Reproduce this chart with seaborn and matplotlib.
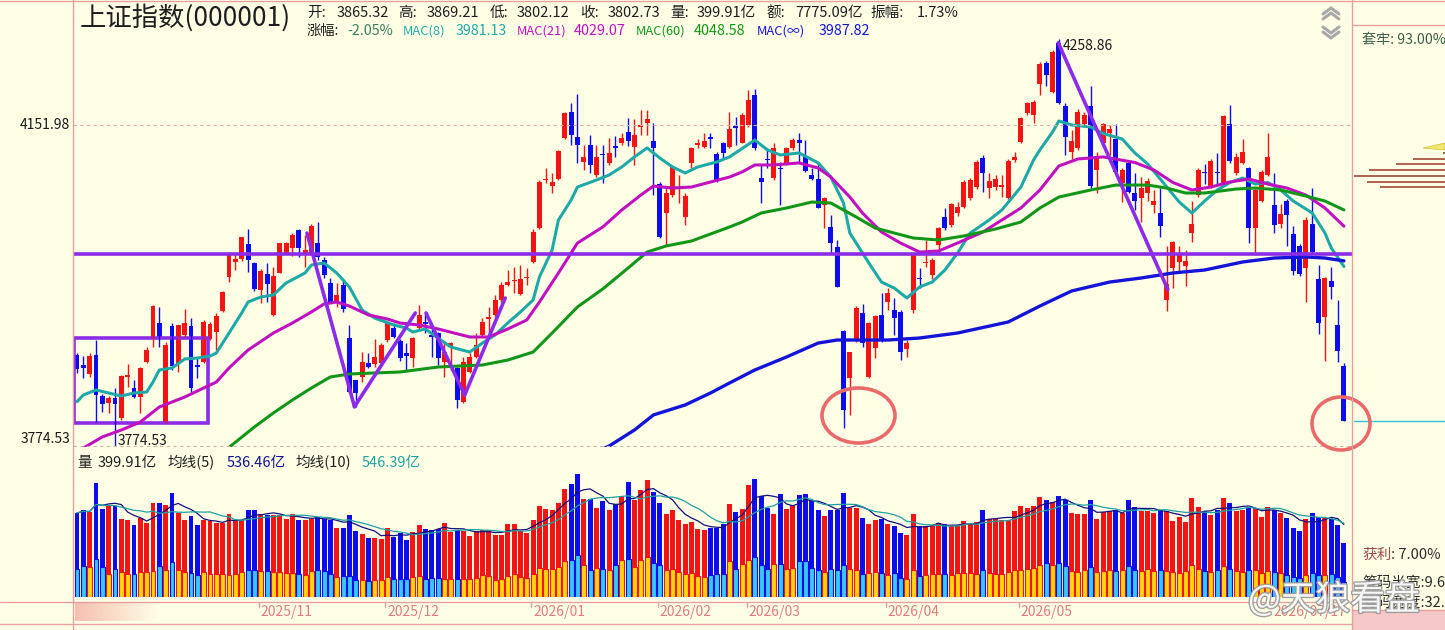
import numpy as np
import pandas as pd
import matplotlib
matplotlib.use("Agg")
import matplotlib.pyplot as plt
import matplotlib.transforms as mtrans
import matplotlib.patheffects as pe
from matplotlib.patches import Rectangle, Ellipse, Polygon
from matplotlib.lines import Line2D
import seaborn as sns

# ---------------- data ----------------
opens = [3877.8, 3866.4, 3856.1, 3877.8, 3831.0, 3823.0, 3828.7, 3806.1, 3852.7, 3840.1,
         3829.8, 3869.9, 3898.7, 3915.0, 3801.5, 3911.7, 3868.7, 3901.0, 3911.7, 3866.4,
         3869.9, 3896.4, 3904.5, 3928.9, 3968.8, 3986.5, 3990.1, 4007.8, 3985.3, 3953.5,
         3972.3, 3924.3, 3973.5, 3997.2, 4003.1, 4024.5, 3996.0, 3997.2, 4009.0, 3988.8,
         3961.7, 3939.4, 3959.3, 3897.5, 3849.2, 3852.7, 3868.7, 3867.5, 3868.7, 3895.2,
         3909.1, 3894.0, 3880.2, 3874.4, 3909.1, 3916.1, 3901.0, 3903.3, 3869.9, 3887.1,
         3863.0, 3824.1, 3858.4, 3875.6, 3901.0, 3919.6, 3924.3, 3941.7, 3959.3, 3964.0,
         3948.8, 3967.6, 3986.5, 4027.0, 4084.7, 4077.4, 4085.9, 4136.0, 4168.1, 4137.3,
         4106.7, 4127.4, 4090.8, 4116.4, 4105.5, 4126.2, 4129.8, 4143.3, 4125.0, 4149.6,
         4154.4, 4132.3, 4079.8, 4044.9, 4066.5, 4073.8, 4040.1, 4105.5, 4127.4, 4125.0,
         4137.3, 4116.4, 4129.8, 4125.0, 4150.8, 4129.8, 4152.0, 4189.1, 4087.1, 4110.3,
         4087.1, 4099.3, 4105.5, 4123.8, 4133.5, 4114.0, 4090.8, 4085.9, 4054.5, 4028.1,
         4004.3, 3905.6, 3851.5, 3895.2, 3926.6, 3852.7, 3886.0, 3924.3, 3939.4, 3930.1,
         3927.8, 3884.8, 3930.1, 3967.6, 3985.3, 3971.1, 4006.6, 4040.1, 4030.5, 4044.9,
         4052.1, 4062.9, 4076.2, 4111.5, 4075.0, 4076.2, 4076.2, 4062.9, 4109.1, 4131.1,
         4166.9, 4164.4, 4202.9, 4229.2, 4192.9, 4254.3, 4175.5, 4118.9, 4123.8, 4153.2,
         4175.5, 4096.9, 4129.8, 4142.1, 4134.8, 4081.1, 4105.5, 4068.9, 4062.9, 4069.0,
         4054.5, 4044.9, 3941.7, 3979.4, 3986.5, 3981.8, 4020.9, 4066.5, 4094.5, 4077.4,
         4094.5, 4081.1, 4153.2, 4093.2, 4105.5, 4099.3, 4026.9, 4059.3, 4090.8, 4054.5,
         4031.7, 4059.3, 4019.7, 4005.5, 3979.4, 4031.7, 3966.4, 3921.9, 3964.0, 3912.6,
         3865.32]
highs = [3880.2, 3876.7, 3880.2, 3895.2, 3833.3, 3831.0, 3840.1, 3855.0, 3867.5, 3849.2,
         3864.1, 3887.1, 3935.9, 3933.6, 3892.9, 3915.0, 3912.6, 3931.2, 3920.7, 3875.6,
         3918.4, 3916.1, 3926.6, 3952.3, 3998.3, 3997.2, 4016.2, 4025.7, 3986.5, 3978.2,
         3985.3, 3980.6, 4009.0, 4010.2, 4021.0, 4025.7, 4018.6, 4031.7, 4034.1, 3992.4,
         3967.6, 3961.7, 3966.4, 3912.6, 3849.2, 3881.3, 3880.2, 3896.4, 3891.7, 3916.1,
         3915.0, 3896.4, 3891.7, 3898.7, 3935.9, 3926.6, 3909.1, 3904.5, 3891.7, 3892.9,
         3864.1, 3875.6, 3880.2, 3903.3, 3920.7, 3933.6, 3947.6, 3962.8, 3977.0, 3980.6,
         3982.9, 3979.4, 4025.7, 4084.7, 4099.3, 4093.2, 4121.3, 4168.1, 4179.2, 4190.4,
         4127.4, 4139.8, 4127.4, 4127.4, 4136.0, 4138.5, 4142.1, 4160.6, 4159.4, 4170.5,
         4170.5, 4154.4, 4082.3, 4076.2, 4101.8, 4090.8, 4068.9, 4125.0, 4134.8, 4142.1,
         4142.1, 4118.9, 4131.1, 4168.1, 4161.8, 4166.9, 4195.4, 4196.6, 4103.0, 4123.8,
         4129.8, 4106.7, 4125.0, 4136.0, 4142.1, 4133.5, 4099.3, 4105.5, 4064.1, 4042.5,
         4012.6, 3906.8, 3881.3, 3934.7, 3937.0, 3916.1, 3924.3, 3950.0, 3955.8, 3944.1,
         3930.1, 3895.2, 3997.2, 3979.4, 4012.6, 3991.2, 4028.1, 4050.9, 4056.9, 4058.1,
         4084.7, 4087.1, 4109.1, 4115.2, 4093.2, 4090.8, 4090.8, 4110.3, 4118.9, 4161.8,
         4180.4, 4182.9, 4230.4, 4231.7, 4245.5, 4258.86, 4179.2, 4145.8, 4171.7, 4168.1,
         4200.4, 4118.9, 4154.4, 4152.0, 4153.2, 4099.3, 4107.9, 4093.2, 4088.3, 4087.1,
         4072.6, 4075.0, 4005.5, 4011.4, 4005.5, 4000.7, 4059.3, 4099.3, 4104.3, 4110.3,
         4117.6, 4164.4, 4176.7, 4117.6, 4134.8, 4100.6, 4075.0, 4096.9, 4142.1, 4093.2,
         4055.7, 4061.7, 4029.3, 4007.8, 4040.1, 4075.0, 3982.9, 3968.8, 3980.6, 3941.7,
         3869.21]
lows = [3857.3, 3851.7, 3852.8, 3801.5, 3812.8, 3811.7, 3774.53, 3803.8, 3841.2, 3828.7,
        3811.7, 3868.7, 3887.1, 3887.1, 3800.4, 3860.7, 3858.4, 3898.7, 3835.5, 3851.7,
        3868.7, 3895.2, 3883.6, 3927.8, 3962.8, 3977.0, 3987.7, 3974.6, 3952.3, 3938.2,
        3939.4, 3923.1, 3973.5, 3996.0, 3993.6, 3992.4, 3980.6, 3994.8, 3988.8, 3967.6,
        3938.2, 3933.6, 3927.8, 3834.4, 3818.5, 3846.9, 3863.0, 3864.1, 3865.3, 3892.9,
        3897.5, 3870.9, 3860.7, 3864.1, 3906.8, 3903.3, 3875.6, 3866.4, 3852.7, 3860.7,
        3817.4, 3823.0, 3857.3, 3874.4, 3898.7, 3903.3, 3921.9, 3939.4, 3958.1, 3949.9,
        3947.6, 3959.3, 3985.3, 4025.7, 4081.1, 4068.9, 4084.7, 4134.8, 4127.4, 4105.5,
        4096.9, 4093.2, 4088.3, 4081.1, 4103.0, 4112.8, 4127.4, 4126.2, 4103.0, 4139.8,
        4139.8, 4066.5, 4015.0, 4006.7, 4064.1, 4056.9, 4030.5, 4099.3, 4123.8, 4123.8,
        4123.8, 4082.3, 4111.5, 4123.8, 4127.4, 4129.8, 4149.6, 4121.3, 4056.9, 4099.3,
        4084.7, 4054.5, 4103.0, 4121.3, 4105.5, 4094.5, 4084.7, 4050.9, 4026.9, 3997.2,
        3957.0, 3794.8, 3809.4, 3892.9, 3887.1, 3851.5, 3874.4, 3892.9, 3930.1, 3901.0,
        3872.1, 3875.6, 3926.6, 3955.8, 3980.6, 3966.4, 3995.9, 4024.5, 4028.1, 4041.3,
        4050.9, 4060.5, 4073.8, 4070.2, 4062.9, 4072.6, 4064.1, 4061.7, 4106.7, 4129.8,
        4164.4, 4154.4, 4189.1, 4200.4, 4191.7, 4178.0, 4115.2, 4110.3, 4121.3, 4150.8,
        4075.0, 4068.9, 4126.2, 4115.2, 4094.5, 4058.1, 4069.0, 4048.5, 4034.1, 4059.3,
        4044.9, 4016.2, 3929.0, 3955.8, 3973.5, 3958.1, 4010.2, 4064.1, 4079.8, 4075.0,
        4079.8, 4078.6, 4105.5, 4090.8, 4104.3, 4009.0, 3994.8, 4058.1, 4089.6, 4020.9,
        4026.9, 4005.5, 3971.1, 3969.9, 3939.4, 3997.2, 3902.2, 3871.0, 3942.9, 3869.8,
        3802.12]
closes = [3861.8, 3863.0, 3876.7, 3832.1, 3821.9, 3828.7, 3821.9, 3853.8, 3855.0, 3829.8,
          3863.0, 3883.6, 3934.7, 3898.7, 3889.4, 3865.3, 3912.6, 3915.0, 3840.1, 3864.1,
          3916.1, 3913.8, 3923.1, 3951.1, 3994.8, 3990.1, 4016.2, 3988.8, 3954.7, 3975.9,
          3960.5, 3970.0, 4009.0, 4009.0, 4018.6, 4003.1, 4000.7, 4029.3, 3992.4, 3971.1,
          3939.4, 3947.6, 3931.2, 3835.5, 3834.4, 3869.9, 3864.1, 3875.6, 3889.4, 3915.0,
          3898.7, 3874.4, 3876.7, 3897.5, 3924.3, 3913.8, 3898.7, 3874.4, 3881.3, 3891.7,
          3826.4, 3869.9, 3875.6, 3889.4, 3916.1, 3921.9, 3941.7, 3959.3, 3962.8, 3965.2,
          3966.4, 3968.8, 4022.1, 4082.3, 4085.9, 4082.3, 4120.1, 4166.9, 4139.8, 4127.4,
          4112.8, 4103.0, 4112.8, 4115.2, 4117.6, 4123.8, 4136.0, 4132.3, 4139.8, 4152.0,
          4159.4, 4123.8, 4016.2, 4069.0, 4100.6, 4076.2, 4065.3, 4123.8, 4129.8, 4132.3,
          4134.8, 4084.7, 4117.6, 4147.0, 4148.3, 4164.4, 4182.9, 4123.8, 4082.3, 4109.1,
          4123.8, 4098.1, 4123.8, 4133.5, 4129.8, 4095.7, 4085.9, 4050.9, 4062.9, 4009.0,
          3957.0, 3815.1, 3881.3, 3932.4, 3891.7, 3915.0, 3923.1, 3895.2, 3949.9, 3920.7,
          3881.3, 3891.7, 3994.8, 3966.4, 3986.5, 3988.8, 4026.9, 4026.9, 4055.7, 4052.1,
          4082.3, 4084.7, 4106.7, 4093.2, 4083.5, 4085.9, 4078.6, 4107.9, 4112.8, 4160.6,
          4179.2, 4180.4, 4228.0, 4214.1, 4243.0, 4179.2, 4137.3, 4132.3, 4168.1, 4164.4,
          4077.4, 4112.8, 4153.2, 4147.0, 4094.5, 4096.9, 4070.2, 4059.3, 4075.0, 4083.5,
          4059.3, 4029.3, 3960.5, 4010.2, 3994.8, 3987.7, 4031.7, 4096.9, 4093.2, 4107.9,
          4093.2, 4163.1, 4107.9, 4112.8, 4118.9, 4026.9, 4072.6, 4094.5, 4112.8, 4030.5,
          4043.7, 4042.5, 3975.9, 3972.3, 4036.5, 3998.3, 3915.0, 3967.6, 3957.0, 3882.3,
          3802.73]
# volume (亿)
volume = [622, 646, 629, 843, 654, 671, 671, 580, 567, 530,
          587, 548, 696, 696, 678, 770, 622, 572, 597, 530,
          572, 562, 548, 548, 612, 562, 572, 641, 646, 617,
          604, 604, 604, 580, 612, 572, 567, 580, 592, 580,
          572, 513, 513, 604, 488, 469, 439, 439, 432, 513,
          444, 474, 424, 481, 530, 506, 493, 506, 548, 481,
          498, 488, 449, 488, 498, 493, 456, 456, 538, 543,
          488, 474, 572, 671, 654, 641, 696, 802, 834, 908,
          728, 728, 661, 710, 641, 686, 745, 851, 720, 794,
          868, 777, 696, 612, 646, 572, 538, 555, 506, 493,
          513, 513, 543, 691, 629, 654, 826, 876, 745, 661,
          617, 765, 654, 678, 752, 760, 710, 646, 597, 641,
          646, 770, 661, 661, 587, 543, 572, 580, 538, 523,
          474, 456, 617, 523, 523, 523, 548, 538, 523, 530,
          562, 543, 555, 641, 580, 580, 572, 572, 636, 671,
          661, 671, 740, 715, 701, 748, 715, 619, 611, 611,
          715, 578, 627, 638, 646, 619, 715, 666, 633, 638,
          619, 646, 633, 564, 591, 556, 729, 666, 633, 605,
          646, 729, 693, 638, 646, 660, 655, 591, 666, 646,
          619, 585.6, 509, 490, 578, 619, 590, 585, 575, 532.4,
          399.91]
# lower (yellow / cyan) part of each volume bar
volume_low = [210, 227, 222, 284, 222, 168, 210, 185, 168, 173,
              185, 185, 192, 227, 202, 259, 197, 185, 178, 160,
              185, 168, 173, 168, 160, 168, 185, 202, 202, 192,
              192, 185, 185, 178, 178, 168, 160, 192, 197, 192,
              168, 148, 153, 153, 128, 123, 118, 128, 123, 148,
              136, 136, 136, 148, 153, 136, 143, 143, 136, 136,
              136, 136, 136, 143, 160, 153, 128, 136, 153, 168,
              148, 143, 168, 217, 210, 210, 222, 266, 271, 308,
              234, 202, 217, 210, 197, 234, 276, 284, 222, 276,
              296, 252, 234, 197, 210, 185, 173, 178, 153, 148,
              160, 168, 173, 266, 210, 247, 276, 296, 234, 210,
              247, 242, 210, 217, 266, 266, 217, 197, 185, 210,
              197, 234, 210, 197, 173, 178, 185, 178, 160, 178,
              143, 136, 197, 153, 160, 173, 168, 173, 160, 178,
              178, 178, 173, 202, 178, 173, 173, 185, 197, 202,
              210, 217, 240, 248, 234, 248, 226, 193, 187, 198,
              220, 187, 193, 198, 193, 198, 226, 198, 193, 206,
              193, 198, 193, 187, 179, 193, 234, 206, 193, 187,
              198, 226, 206, 193, 187, 198, 198, 179, 193, 187,
              179, 165, 151, 143, 165, 179, 165, 165, 171, 151,
              110]
amount_yi = 7775.09

# moving-average lines (candle index, value)
mac8_idx = [0, 1, 3, 5, 7, 9, 11, 12, 13, 15, 17, 19, 21, 22, 24, 26, 27, 29, 31, 33, 36, 37, 39,
            41, 43, 45, 47, 50, 52, 53, 55, 57, 59, 62, 64, 66, 68, 70, 72, 73, 75, 76, 78, 79,
            82, 84, 86, 88, 90, 92, 94, 96, 98, 101, 103, 107, 109, 111, 114, 117, 119, 121,
            122, 125, 127, 129, 131, 133, 135, 137, 139, 141, 144, 146, 149, 151, 152, 154, 155,
            157, 160, 162, 165, 167, 169, 171, 174, 176, 178, 180, 182, 184, 186, 188, 190, 192,
            195, 197, 198, 200]
mac8_val = [3824.5, 3832.1, 3837.8, 3834.4, 3831.0, 3834.4, 3835.5, 3846.9, 3860.7, 3863.0,
            3873.3, 3874.4, 3876.7, 3880.2, 3903.3, 3926.6, 3939.4, 3945.2, 3947.6, 3961.7,
            3973.5, 3982.9, 3985.3, 3973.5, 3957.0, 3930.1, 3920.7, 3912.6, 3909.1, 3904.5,
            3908.0, 3897.5, 3887.1, 3881.3, 3891.7, 3901.0, 3915.0, 3927.8, 3941.7, 3968.8,
            4000.7, 4036.5, 4060.5, 4076.2, 4084.7, 4090.8, 4100.6, 4112.8, 4123.8, 4111.5,
            4100.6, 4093.2, 4100.6, 4106.7, 4112.8, 4133.5, 4121.3, 4115.2, 4117.6, 4105.5,
            4088.3, 4056.9, 4020.9, 3985.3, 3962.8, 3955.8, 3944.1, 3957.0, 3962.8, 3977.0,
            3997.1, 4020.9, 4036.5, 4048.5, 4076.2, 4109.1, 4121.3, 4143.3, 4156.9, 4152.0,
            4149.6, 4141.5, 4134.7, 4117.6, 4104.3, 4085.9, 4058.1, 4044.9, 4059.3, 4072.6,
            4081.7, 4087.1, 4079.8, 4081.7, 4072.6, 4059.3, 4044.9, 4020.9, 4003.1, 3981.13]
mac21_idx = [0, 4, 7, 10, 13, 17, 20, 22, 24, 27, 31, 34, 37, 39, 41, 43, 46, 49, 51, 54, 57,
             62, 65, 68, 71, 73, 76, 79, 83, 86, 89, 91, 94, 97, 100, 103, 105, 107, 110, 114,
             117, 119, 122, 124, 127, 130, 133, 136, 139, 143, 146, 149, 152, 155, 158, 162,
             167, 170, 173, 176, 179, 182, 185, 188, 191, 194, 197, 200]
mac21_val = [3768.0, 3784.7, 3792.5, 3801.5, 3818.5, 3829.8, 3840.1, 3846.9, 3863.0, 3883.6,
             3903.3, 3914.9, 3927.8, 3937.1, 3939.4, 3934.7, 3924.3, 3919.6, 3914.9, 3912.6,
             3908.0, 3898.7, 3898.7, 3908.0, 3918.4, 3939.4, 3973.5, 4009.0, 4028.1, 4048.5,
             4066.5, 4077.4, 4075.0, 4076.2, 4082.3, 4088.3, 4094.5, 4103.0, 4103.0, 4105.5,
             4099.3, 4088.3, 4064.1, 4044.9, 4022.1, 4009.0, 3998.3, 3999.5, 4009.0, 4022.1,
             4036.5, 4050.9, 4072.6, 4101.8, 4110.3, 4112.8, 4106.0, 4096.9, 4081.7, 4072.6,
             4076.2, 4082.3, 4085.9, 4079.8, 4075.0, 4066.5, 4050.9, 4029.07]
mac60_idx = [22, 24, 28, 31, 34, 37, 40, 43, 47, 51, 57, 64, 68, 72, 75, 79, 83, 87, 90, 93,
             97, 103, 105, 108, 112, 116, 119, 123, 126, 129, 132, 136, 140, 145, 149, 152,
             155, 160, 164, 169, 172, 175, 178, 183, 186, 190, 194, 197, 200]
mac60_val = [3765.0, 3773.0, 3795.9, 3811.7, 3826.4, 3840.1, 3852.7, 3856.1, 3857.3, 3858.4,
             3864.1, 3866.4, 3872.1, 3881.3, 3903.3, 3933.6, 3954.7, 3979.4, 3998.3, 4005.5,
             4011.4, 4028.1, 4034.1, 4044.9, 4050.9, 4058.1, 4056.9, 4040.1, 4026.9, 4020.9,
             4015.0, 4012.6, 4017.4, 4025.7, 4034.1, 4050.9, 4064.1, 4072.6, 4078.6, 4078.6,
             4075.0, 4069.0, 4069.0, 4073.8, 4075.0, 4072.6, 4065.3, 4059.3, 4048.58]
macinf_idx = [82, 84, 88, 91, 96, 100, 103, 107, 112, 117, 120, 128, 133, 139, 147, 152, 157,
              163, 168, 173, 178, 184, 189, 194, 197, 200]
macinf_val = [3768.0, 3774.5, 3792.5, 3809.5, 3820.8, 3834.4, 3845.8, 3860.7, 3875.6, 3891.7,
              3895.2, 3895.2, 3897.5, 3903.3, 3916.1, 3934.7, 3952.3, 3962.8, 3967.6, 3973.5,
              3977.0, 3986.5, 3991.2, 3992.4, 3991.2, 3987.82]

# hand-drawn annotations (candle index, price)
support_level = 3996.0
box_idx = [-0.4, 20.7]
box_price = [3800.4, 3897.5]
trend_lines = [[(36.3, 4020.9), (43.8, 3818.8)],
               [(43.8, 3818.8), (53.4, 3926.6)],
               [(55.1, 3926.6), (61.2, 3832.1)],
               [(61.2, 3832.1), (67.6, 3944.1)],
               [(154.9, 4254.6), (172.2, 3954.0)]]

# chip distribution (right panel): price level, bar length
chip_price = [4117.6, 4110.3, 4104.3, 4096.9, 4089.6, 4082.3, 4076.2]
chip_len = [2, 32, 49, 76, 91, 78, 65]

month_idx = [29, 49, 72, 92, 106, 128, 149]
month_lbl = ["2025/11", "2025/12", "2026/01", "2026/02", "2026/03", "2026/04", "2026/05"]
last_date = "2026/07/17"

# ---------------- style ----------------
sns.set_theme(style="white")
plt.rcParams["font.family"] = ["Noto Sans CJK SC", "DejaVu Sans"]
plt.rcParams["axes.unicode_minus"] = False

W, H = 1445, 630
BG = "#FFFFE6"
RED = "#F41414"
BLUE = "#0C0CEE"
YEL = "#FFD60A"
CYN = "#38C8F4"
FRAME = "#E6A0A0"
PURPLE = "#8C2BE8"
C8, C21, C60, CINF = "#1FA8A8", "#C010C0", "#12961A", "#1414D8"

o = np.array(opens); h = np.array(highs); l = np.array(lows); c = np.array(closes)
idx = np.arange(len(o))
up = c >= o
col = np.where(up, RED, BLUE)

fig = plt.figure(figsize=(W / 100, H / 100), dpi=100, facecolor=BG)
fx = lambda x: x / W
fy = lambda y: 1 - y / H

PL, PR = 73, 1352
ax = fig.add_axes([fx(PL), fy(447), (PR - PL) / W, 447 / H])
axv = fig.add_axes([fx(PL), fy(597), (PR - PL) / W, 142 / H])
axc = fig.add_axes([fx(PR), fy(447), (W - PR) / W, 447 / H])
for a in (ax, axv, axc):
    a.set_facecolor("none")
    a.set_axis_off()

# ---- price panel ----
ax.set_yscale("log")
ax.vlines(idx, l, h, colors=col, linewidth=1.0)
ax.bar(idx, np.maximum(np.abs(c - o), 1.0), bottom=np.minimum(o, c), width=0.78,
       color=col, linewidth=0)
for xs, ys, cc, lw in [(mac8_idx, mac8_val, C8, 2.2), (mac21_idx, mac21_val, C21, 2.2),
                       (mac60_idx, mac60_val, C60, 2.2), (macinf_idx, macinf_val, CINF, 2.4)]:
    sns.lineplot(x=xs, y=ys, ax=ax, color=cc, linewidth=lw, legend=False)
ax.axhline(4151.98, color="#D9B0A8", lw=0.8, ls=(0, (3, 3)))
ax.axhline(3774.53, color="#D9B0A8", lw=0.8, ls=(0, (3, 3)))
ax.axhline(support_level, color=PURPLE, lw=2.6)
ax.add_patch(Rectangle((box_idx[0], box_price[0]), box_idx[1] - box_idx[0],
                       box_price[1] - box_price[0], fill=False, ec=PURPLE, lw=2.6))
for seg in trend_lines:
    ax.plot([seg[0][0], seg[1][0]], [seg[0][1], seg[1][1]], color=PURPLE, lw=2.6,
            solid_capstyle="round")
ax.set_xlim(-0.63, 201.27)
ax.set_ylim(3773.41, 4308.97)
ax.annotate(f"{max(highs):.2f}", xy=(int(np.argmax(h)), max(highs)), xytext=(4, -7),
            textcoords="offset pixels", fontsize=10, color="#1A1A1A", va="center")
ax.annotate(f"{min(lows):.2f}", xy=(int(np.argmin(l)), min(lows)), xytext=(3, 5),
            textcoords="offset pixels", fontsize=10, color="#1A1A1A", va="center")
ytr = mtrans.blended_transform_factory(fig.transFigure, ax.transData)
ax.text(fx(70), 4151.98, "4151.98", transform=ytr, ha="right", va="center",
        fontsize=10, color="#1A1A1A")
ax.text(fx(70), 3774.53, "3774.53", transform=ytr, ha="right", va="bottom",
        fontsize=10, color="#1A1A1A")

# ---- volume panel ----
vol = np.array(volume, dtype=float)
axv.bar(idx, vol, width=0.78, color=col, linewidth=0)
axv.bar(idx, volume_low, width=0.78, color=np.where(up, YEL, CYN), edgecolor=col,
        linewidth=0.8)
ma5 = pd.Series(vol).rolling(5, min_periods=1).mean()
ma10 = pd.Series(vol).rolling(10, min_periods=1).mean()
sns.lineplot(x=idx, y=ma5.values, ax=axv, color="#101080", linewidth=0.9, legend=False)
sns.lineplot(x=idx, y=ma10.values, ax=axv, color="#20A0A0", linewidth=0.9, legend=False)
axv.set_xlim(-0.63, 201.27)
axv.set_ylim(0, 1050.8)

# ---- right chip panel ----
axc.set_yscale("log")
axc.set_xlim(0, 93)
axc.set_ylim(3773.41, 4308.97)
axc.hlines(chip_price, [93 - v for v in chip_len], 93, colors="#A04834", linewidth=1.2)
axc.add_patch(Polygon([(71, 4123.7), (93, 4129.8), (93, 4121.3)], closed=True,
                      fc="#F0E870", ec="#D8C840", lw=0.6))
axc.axhline(closes[-1], xmin=0.02, color="#30C0D8", lw=1.0)

# ---- frame lines ----
def fline(x0, y0, x1, y1, color=FRAME, lw=1.0):
    fig.add_artist(Line2D([fx(x0), fx(x1)], [fy(y0), fy(y1)], color=color, lw=lw))

fline(0, 0.5, W, 0.5)
fline(PL, 0, PL, H)
fline(PR, 0, PR, H)
fline(PR, 25, W, 25)
fline(0, 602, PR, 602)
fline(0, 624, PR, 624)
fline(PR, 610, W, 610)
fig.add_artist(Rectangle((fx(PR + 1), fy(630)), (W - PR) / W, 20 / H, transform=fig.transFigure,
                         fc="#F7C8C8", ec="none"))
# soft pink smear at the lower-left of the date strip
grad_ax = fig.add_axes([fx(75), fy(621), 85 / W, 19 / H])
grad_ax.set_axis_off()
g = np.zeros((1, 64, 4))
g[..., 0], g[..., 1], g[..., 2] = 0.93, 0.55, 0.52
g[..., 3] = np.linspace(0.55, 0.0, 64)
grad_ax.imshow(g, aspect="auto", interpolation="bilinear")

# chevrons
for pts in [[(1323, 14), (1331, 8), (1339, 14)], [(1323, 19), (1331, 13), (1339, 19)],
            [(1323, 27), (1331, 33), (1339, 27)], [(1323, 32), (1331, 38), (1339, 32)]]:
    fig.add_artist(Line2D([fx(p[0]) for p in pts], [fy(p[1]) for p in pts],
                          color="#A8A8A8", lw=2.2))

# date axis
dtr = mtrans.blended_transform_factory(axv.transData, fig.transFigure)
for m, lab in zip(month_idx, month_lbl):
    fig.add_artist(Line2D([m - 0.3, m - 0.3], [fy(602), fy(607)], transform=dtr,
                          color=FRAME, lw=1))
    fig.text(m, fy(612), lab, transform=dtr, fontsize=10, color="#E07C7C", va="center")
fig.text(len(closes) - 0.6, fy(612), last_date, transform=dtr, fontsize=10,
         color="#E07C7C", va="center", ha="right")

# ---- header texts ----
prev_close = closes[-2]
chg = (closes[-1] - prev_close) / prev_close * 100
amp = (highs[-1] - lows[-1]) / prev_close * 100
fig.text(fx(80), fy(18), "上证指数(000001)", fontsize=19, color="#1E1E1E", va="center")
DK = "#1E1E1E"
line1 = [(307, "开:", DK), (337, f"{opens[-1]:.2f}", DK), (398, "高:", DK),
         (427, f"{highs[-1]:.2f}", DK), (490, "低:", DK), (517, f"{lows[-1]:.2f}", DK),
         (580, "收:", DK), (608, f"{closes[-1]:.2f}", DK), (670, "量:", DK),
         (697, f"{volume[-1]:.2f}亿", DK), (766, "额:", DK), (795, f"{amount_yi:.2f}亿", DK),
         (870, "振幅:", DK), (917, f"{amp:.2f}%", DK)]
line2 = [(307, "涨幅:", DK), (347, f"{chg:.2f}%", "#3A7F62"),
         (403, "MAC(8)", C8), (456, f"{mac8_val[-1]:.2f}", C8),
         (517, "MAC(21)", C21), (574, f"{mac21_val[-1]:.2f}", C21),
         (636, "MAC(60)", C60), (694, f"{mac60_val[-1]:.2f}", C60),
         (757, "MAC(∞)", CINF), (819, f"{macinf_val[-1]:.2f}", CINF)]
for x, s, cc in line1:
    fig.text(fx(x), fy(13), s, fontsize=10.5, color=cc, va="center")
for x, s, cc in line2:
    fs = 9.3 if s.startswith("MAC") else 10.3
    fig.text(fx(x), fy(31), s, fontsize=fs, color=cc, va="center")
line3 = [(77, "量", DK), (98, f"{volume[-1]:.2f}亿", DK), (167, "均线(5)", DK),
         (227, f"{ma5.iloc[-1]:.2f}亿", "#101090"), (295, "均线(10)", DK),
         (362, f"{ma10.iloc[-1]:.2f}亿", "#20A0A0")]
for x, s, cc in line3:
    fig.text(fx(x), fy(463), s, fontsize=10.5, color=cc, va="center")

# right-panel texts
fig.text(fx(1362), fy(40), "套牢: 93.00%", fontsize=10.2, color="#3E5E4C", va="center")
fig.text(fx(1362), fy(555), "获利", fontsize=10.5, color="#A04848", va="center")
fig.text(fx(1391), fy(555), ": 7.00%", fontsize=10.5, color="#2A2A2A", va="center")
fig.text(fx(1362), fy(583), "筹码半宽:9.60%", fontsize=10.5, color="#2A2A2A", va="center")
fig.text(fx(1362), fy(603), "筹码宽度:32.00%", fontsize=10.5, color="#2A2A2A", va="center")

# ellipses (hand-drawn marks)
for (cx, cy, ew, eh) in [(858.5, 415.5, 73, 55), (1341, 423.5, 58, 53)]:
    fig.add_artist(Ellipse((fx(cx), fy(cy)), ew / W, eh / H, transform=fig.transFigure,
                           fill=False, ec="#E86A6A", lw=2.6))

# watermark
fig.text(fx(1248), fy(600), "@天狼看盘", fontsize=25, color="white", alpha=0.92, va="center",
         path_effects=[pe.withStroke(linewidth=2.0, foreground="#9A9A9A")])

fig.savefig("out.png", dpi=100, facecolor=BG)
